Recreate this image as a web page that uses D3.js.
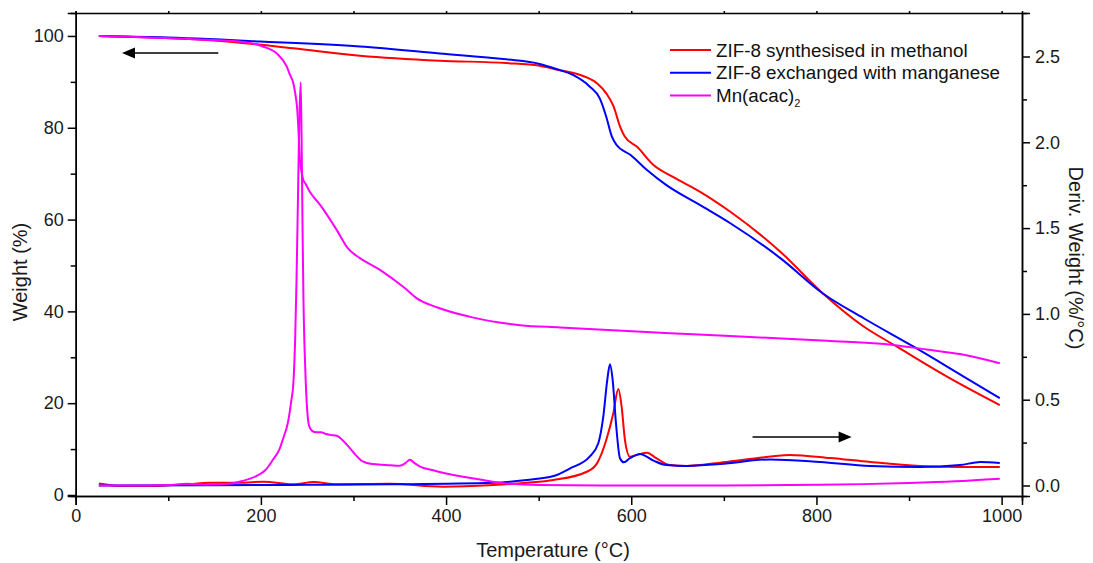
<!DOCTYPE html>
<html>
  <head>
    <meta charset="utf-8">
    <title>TGA of ZIF-8 and Mn(acac)2</title>
    <script src="https://d3js.org/d3.v7.min.js"></script>
    <style>
      body { margin: 0; background: #fff; }
      svg { font-family: "Liberation Sans", Arial, sans-serif; }
      .axis path, .axis line { stroke: #000; stroke-width: 1.5; }
      .axis text { font-size: 18px; fill: #1a1a1a; }
      .title { font-size: 20px; fill: #1a1a1a; }
      .plot { fill: none; stroke-width: 2; stroke-linejoin: round; }
      .key { font-size: 18.8px; fill: #111; }
    </style>
  </head>
  <body>
    <svg id="chart" width="1093" height="563"></svg>
    <script>
      // ---- data: [temperature (C), value] ----
      // weight (%), left axis
      const meohWeight = [[25,100],[91,99.6],[163,98.8],[235,97.3],[307,95.7],[393,94.6],[465,94.1],[501,93.5],
        [519,92.7],[545,91.5],[563,89.7],[573,87.5],[581,84.6],[588,80.2],[593,78.1],[606,75.9],[624,71.9],
        [645,69.3],[674,66.1],[707,61.7],[761,53.0],[807,43.9],[851,36.7],[887,32.3],[941,25.8],[998,19.6]];
      const mnWeight = [[25,100],[91,99.7],[199,98.8],[307,97.7],[393,96.2],[465,94.9],[501,93.9],[519,92.8],
        [537,91.5],[555,89.0],[566,86.4],[573,82.4],[579,78.1],[584,76.3],[599,74.1],[617,70.8],[638,67.5],
        [674,63.2],[707,59.2],[761,51.6],[807,43.9],[851,38.5],[905,32.3],[959,25.8],[998,21.1]];
      const acacWeight = [[25,100],[127,99.3],[181,98.7],[202,97.7],[217,96.2],[228,93.3],[231.5,91.5],[235,89.7],
        [237,87.6],[239.3,83.9],[240.4,80.2],[242.2,73.0],[244.1,70.2],[245.8,68.6],[247.6,68.0],[253,66.0],
        [264,63.2],[282,57.7],[294,53.7],[307,51.6],[329,49.0],[354,45.3],[368,42.9],[390,40.9],[426,38.8],
        [480,37.0],[523,36.5],[667,35.0],[811,33.6],[883,32.7],[919,31.7],[955,30.7],[998,28.7]];
      // derivative weight (%/C), right axis
      const meohDeriv = [[25,0.012],[50,-0.003],[80,-0.003],[120,0.007],[145,0.016],[177,0.016],[203,0.022],
        [235,0.007],[257,0.02],[282,0.007],[339,0.01],[397,-0.007],[451,0.003],[487,0.016],[516,0.032],
        [552,0.08],[563,0.129],[573,0.265],[580.6,0.421],[586,0.562],[589.6,0.459],[593.2,0.265],[598.6,0.168],
        [606,0.178],[617,0.191],[627,0.159],[642,0.119],[660,0.114],[696,0.133],[728,0.154],[771,0.178],
        [815,0.16],[858,0.137],[912,0.114],[955,0.108],[998,0.108]];
      const mnDeriv = [[25,0.0],[150,0.002],[250,0.004],[343,0.007],[451,0.016],[487,0.032],[516,0.055],
        [534,0.1],[555,0.168],[564.4,0.246],[569.8,0.401],[574.1,0.615],[577,0.706],[579.9,0.615],[583.5,0.362],
        [587.8,0.159],[592,0.135],[598.6,0.159],[609.4,0.184],[624,0.145],[638,0.119],[660,0.114],[696,0.125],
        [750,0.152],[804,0.137],[858,0.114],[912,0.108],[955,0.119],[977,0.137],[998,0.131]];
      const acacDeriv = [[25,0.0],[60,0.0],[100,0.003],[120,0.01],[140,0.005],[165,0.01],[180,0.026],[195,0.055],
        [205,0.09],[213,0.15],[220,0.21],[225,0.29],[228,0.34],[230,0.39],[233,0.5],[235,0.59],[237,0.85],
        [238.5,1.2],[240,1.66],[241.5,2.13],[243,2.35],[244,2.01],[245,1.49],[246,1.08],[248,0.67],[250,0.44],
        [252,0.35],[255,0.32],[260,0.31],[265,0.31],[270,0.3],[275,0.295],[282,0.29],[288,0.265],[295,0.225],
        [302,0.18],[310,0.14],[320,0.125],[335,0.12],[350,0.115],[356,0.13],[361,0.15],[366,0.13],[372,0.11],
        [385,0.09],[400,0.07],[420,0.05],[440,0.032],[460,0.015],[500,0.003],[600,0.0],[700,0.0],[800,0.004],
        [850,0.008],[900,0.015],[950,0.025],[998,0.04]];

      const seriesNames = ["ZIF-8 synthesised in methanol", "ZIF-8 exchanged with manganese", "Mn(acac)"];
      const seriesColours = ["#ff0000", "#0000ff", "#ff00ff"];

      const xTicks = [0, 200, 400, 600, 800, 1000];
      const xMinorTicks = [100, 300, 500, 700, 900];
      const leftTicks = [0, 20, 40, 60, 80, 100];
      const leftMinorTicks = [10, 30, 50, 70, 90];
      const rightTicks = [0, 0.5, 1.0, 1.5, 2.0, 2.5];
      const rightMinorTicks = [0.25, 0.75, 1.25, 1.75, 2.25];

      // ---- layout ----
      const chart = d3.select("#chart");
      const frame = { left: 75.7, right: 1022, top: 13, bottom: 496 };

      const x = d3.scaleLinear().domain([0, 1022]).range([frame.left, frame.right]);
      const yLeft = d3.scaleLinear().domain([-0.22, 105.0]).range([frame.bottom, frame.top]);
      const yRight = d3.scaleLinear().domain([-0.0612, 2.7535]).range([frame.bottom, frame.top]);

      // axes
      function addAxis(axis, transform) {
        chart.append("g").attr("class", "axis").attr("transform", transform).call(axis);
      }
      addAxis(d3.axisBottom(x).tickValues(xMinorTicks).tickSize(5).tickFormat(""), `translate(0,${frame.bottom})`);
      addAxis(d3.axisBottom(x).tickValues(xTicks).tickSizeOuter(0).tickSize(9).tickPadding(4).tickFormat(d3.format("d")), `translate(0,${frame.bottom})`);
      addAxis(d3.axisTop(x).tickValues(xTicks.concat(xMinorTicks)).tickSizeOuter(0).tickSize(2).tickFormat(""), `translate(0,${frame.top})`);
      addAxis(d3.axisLeft(yLeft).tickValues(leftMinorTicks).tickSize(5).tickFormat(""), `translate(${frame.left},0)`);
      addAxis(d3.axisLeft(yLeft).tickValues(leftTicks).tickSizeOuter(0).tickSize(8).tickPadding(4).tickFormat(d3.format("d")), `translate(${frame.left},0)`);
      addAxis(d3.axisRight(yRight).tickValues(rightMinorTicks).tickSize(5).tickFormat(""), `translate(${frame.right},0)`);
      addAxis(d3.axisRight(yRight).tickValues(rightTicks).tickSizeOuter(0).tickSize(8).tickPadding(5).tickFormat(d3.format(".1f")), `translate(${frame.right},0)`);

      // axis titles
      chart.append("text").attr("class", "title")
        .attr("transform", "translate(27,272) rotate(-90)")
        .attr("text-anchor", "middle")
        .text("Weight (%)");
      chart.append("text").attr("class", "title")
        .attr("transform", "translate(1069,258) rotate(90)")
        .attr("text-anchor", "middle")
        .text("Deriv. Weight (%/\u00b0C)");
      chart.append("text").attr("class", "title")
        .attr("x", 553).attr("y", 557)
        .attr("text-anchor", "middle")
        .text("Temperature (\u00b0C)");

      // curves
      const weightLine = d3.line()
        .x(function(d) { return x(d[0]); })
        .y(function(d) { return yLeft(d[1]); })
        .curve(d3.curveMonotoneX);
      const derivLine = d3.line()
        .x(function(d) { return x(d[0]); })
        .y(function(d) { return yRight(d[1]); })
        .curve(d3.curveMonotoneX);

      const plots = chart.append("g");
      [[meohDeriv, 0], [mnDeriv, 1], [acacDeriv, 2]].forEach(function(s) {
        plots.append("path").attr("class", "plot").attr("stroke", seriesColours[s[1]]).attr("d", derivLine(s[0]));
      });
      [[meohWeight, 0], [mnWeight, 1], [acacWeight, 2]].forEach(function(s) {
        plots.append("path").attr("class", "plot").attr("stroke", seriesColours[s[1]]).attr("d", weightLine(s[0]));
      });

      // arrows showing which axis each family of curves uses
      function arrow(x1, x2, y) {
        const dir = x2 > x1 ? 1 : -1;
        chart.append("line")
          .attr("x1", x1).attr("x2", x2 - dir * 10).attr("y1", y).attr("y2", y)
          .attr("stroke", "#000").attr("stroke-width", 1.5);
        chart.append("path")
          .attr("d", `M${x2},${y}L${x2 - dir * 13},${y - 5.5}L${x2 - dir * 13},${y + 5.5}Z`)
          .attr("fill", "#000");
      }
      arrow(x(154), x(50), yLeft(96.3));
      arrow(x(731), x(838), yRight(0.283));

      // legend
      const legend = chart.append("g").attr("transform", "translate(670,50)");
      seriesNames.forEach(function(name, i) {
        const row = legend.append("g").attr("transform", `translate(0,${i * 22.8})`);
        row.append("line").attr("x1", 0).attr("x2", 41).attr("y1", 0).attr("y2", 0)
          .attr("stroke", seriesColours[i]).attr("stroke-width", 2);
        const label = row.append("text").attr("class", "key").attr("x", 46).attr("dy", "0.35em").text(name);
        if (i === 2) {
          label.append("tspan").attr("font-size", "11px").attr("dy", "5").text("2");
        }
      });
    </script>
  </body>
</html>
